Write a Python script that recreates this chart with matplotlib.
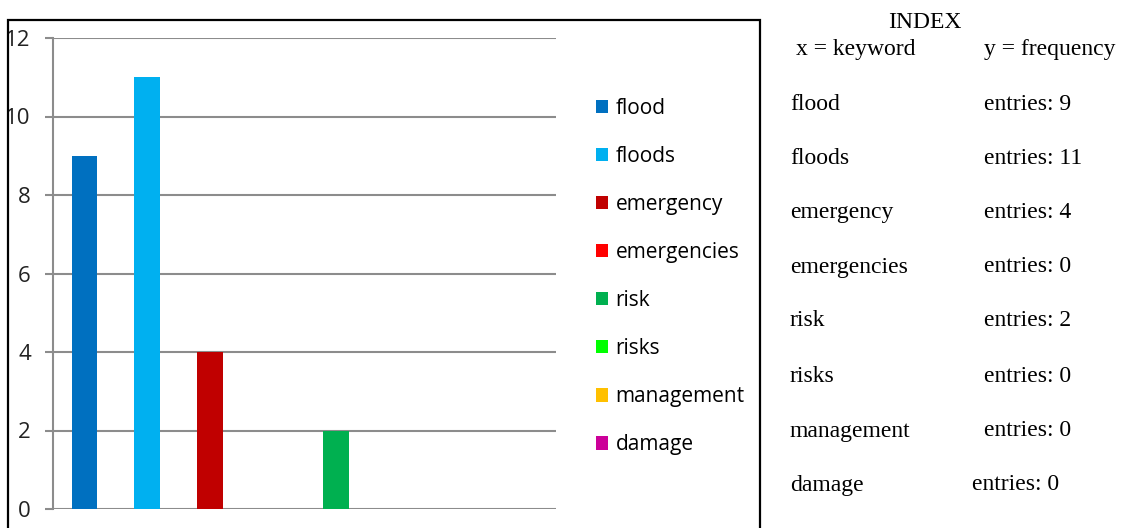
import matplotlib.pyplot as plt
from matplotlib.patches import Rectangle, Patch

# keyword frequencies
keywords = ['flood', 'floods', 'emergency', 'emergencies', 'risk', 'risks',
            'management', 'damage']
counts = [9, 11, 4, 0, 2, 0, 0, 0]
colors = ['#0070C0', '#00B0F0', '#C00000', '#FF0000', '#00B050', '#00FF00',
          '#FFC000', '#CC0099']
y_ticks = [0, 2, 4, 6, 8, 10, 12]

W, H = 1121, 528
fig = plt.figure(figsize=(W / 100, H / 100), dpi=100)

# frame around the chart
fig.patches.append(Rectangle((8 / W, -0.05), 752 / W, 1.05 - 20 / H,
                             transform=fig.transFigure, fill=False,
                             edgecolor='black', linewidth=1.6))

ax = fig.add_axes([53 / W, 19 / H, 503 / W, 471 / H])
x = range(len(keywords))
ax.bar(x, counts, width=0.41, color=colors, zorder=3)
ax.set_xlim(-0.5, len(keywords) - 0.5)
ax.set_ylim(0, 12)
ax.set_yticks(y_ticks)
ax.set_yticklabels([str(t) for t in y_ticks], family='Open Sans',
                   fontsize=16, color='#222222')
ax.set_xticks([])
ax.yaxis.grid(True, color='#8c8c8c', linewidth=1.5, zorder=0)
for s in ['top', 'right', 'bottom']:
    ax.spines[s].set_visible(False)
ax.spines['left'].set_color('#8c8c8c')
ax.spines['left'].set_linewidth(1.5)
ax.tick_params(axis='y', length=6, width=1.5, color='#8c8c8c', pad=10)

handles = [Patch(facecolor=c, edgecolor='none') for c in colors]
leg = fig.legend(handles, keywords, loc='upper left',
                 bbox_to_anchor=(577 / W, 1 - 79 / H), frameon=False,
                 handlelength=0.6, handleheight=0.6, handletextpad=0.35,
                 labelspacing=1.3, prop={'family': 'Open Sans', 'size': 15})

# index listing on the right
serif = 'Liberation Serif'
fs = 17
fig.text(925 / W, 1 - 22 / H, 'INDEX', ha='center', va='center',
         family=serif, fontsize=fs)
fig.text(796 / W, 1 - 49 / H, 'x = keyword', ha='left', va='center',
         family=serif, fontsize=fs)
fig.text(984 / W, 1 - 49 / H, 'y = frequency', ha='left', va='center',
         family=serif, fontsize=fs)
row_y = [104, 158, 213, 267, 321, 376, 431, 485]
val_x = [984, 984, 984, 984, 984, 984, 984, 972]
for k, v, ry, vx in zip(keywords, counts, row_y, val_x):
    fig.text(790 / W, 1 - ry / H, k, ha='left', va='center',
             family=serif, fontsize=fs)
    fig.text(vx / W, 1 - ry / H, f'entries: {v}', ha='left', va='center',
             family=serif, fontsize=fs)

fig.savefig('out.png', dpi=100)
